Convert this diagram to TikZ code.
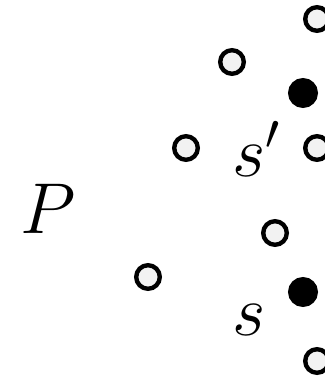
\RequirePackage{fix-cm}
\documentclass[tikz,border=0pt]{standalone}
\usepackage{amsmath,amssymb}
\usepackage{tikz}
\tikzset{
  ponto/.style={circle, draw, line width=4.4pt, fill=gray!10, minimum size=23.6pt, inner sep=0pt},
  cheio/.style={ponto, fill=black, minimum size=25.6pt},
  rotulo/.style={font=\fontsize{72}{80}\selectfont, inner sep=0pt, anchor=base west},
}
\begin{document}
\begin{tikzpicture}[x=1pt, y=-1pt]
  \useasboundingbox (0,0) rectangle (324,379);
  % pontos abertos
  \node[ponto] (a) at (317,19) {};
  \node[ponto] (b) at (232,62) {};
  \node[ponto] (c) at (186,148) {};
  \node[ponto] (d) at (317,148) {};
  \node[ponto] (e) at (275,233) {};
  \node[ponto] (f) at (148,277) {};
  \node[ponto] (g) at (317,361) {};
  % pontos cheios
  \node[cheio] (s1) at (303,93) {};
  \node[cheio] (s0) at (303,292) {};
  % rotulos
  \node[rotulo] (lp) at (20,233) {$P$};
  \node[rotulo] (ls1) at (232,176) {$s'$};
  \node[rotulo] (ls0) at (232,335) {$s$};
\end{tikzpicture}
\end{document}
